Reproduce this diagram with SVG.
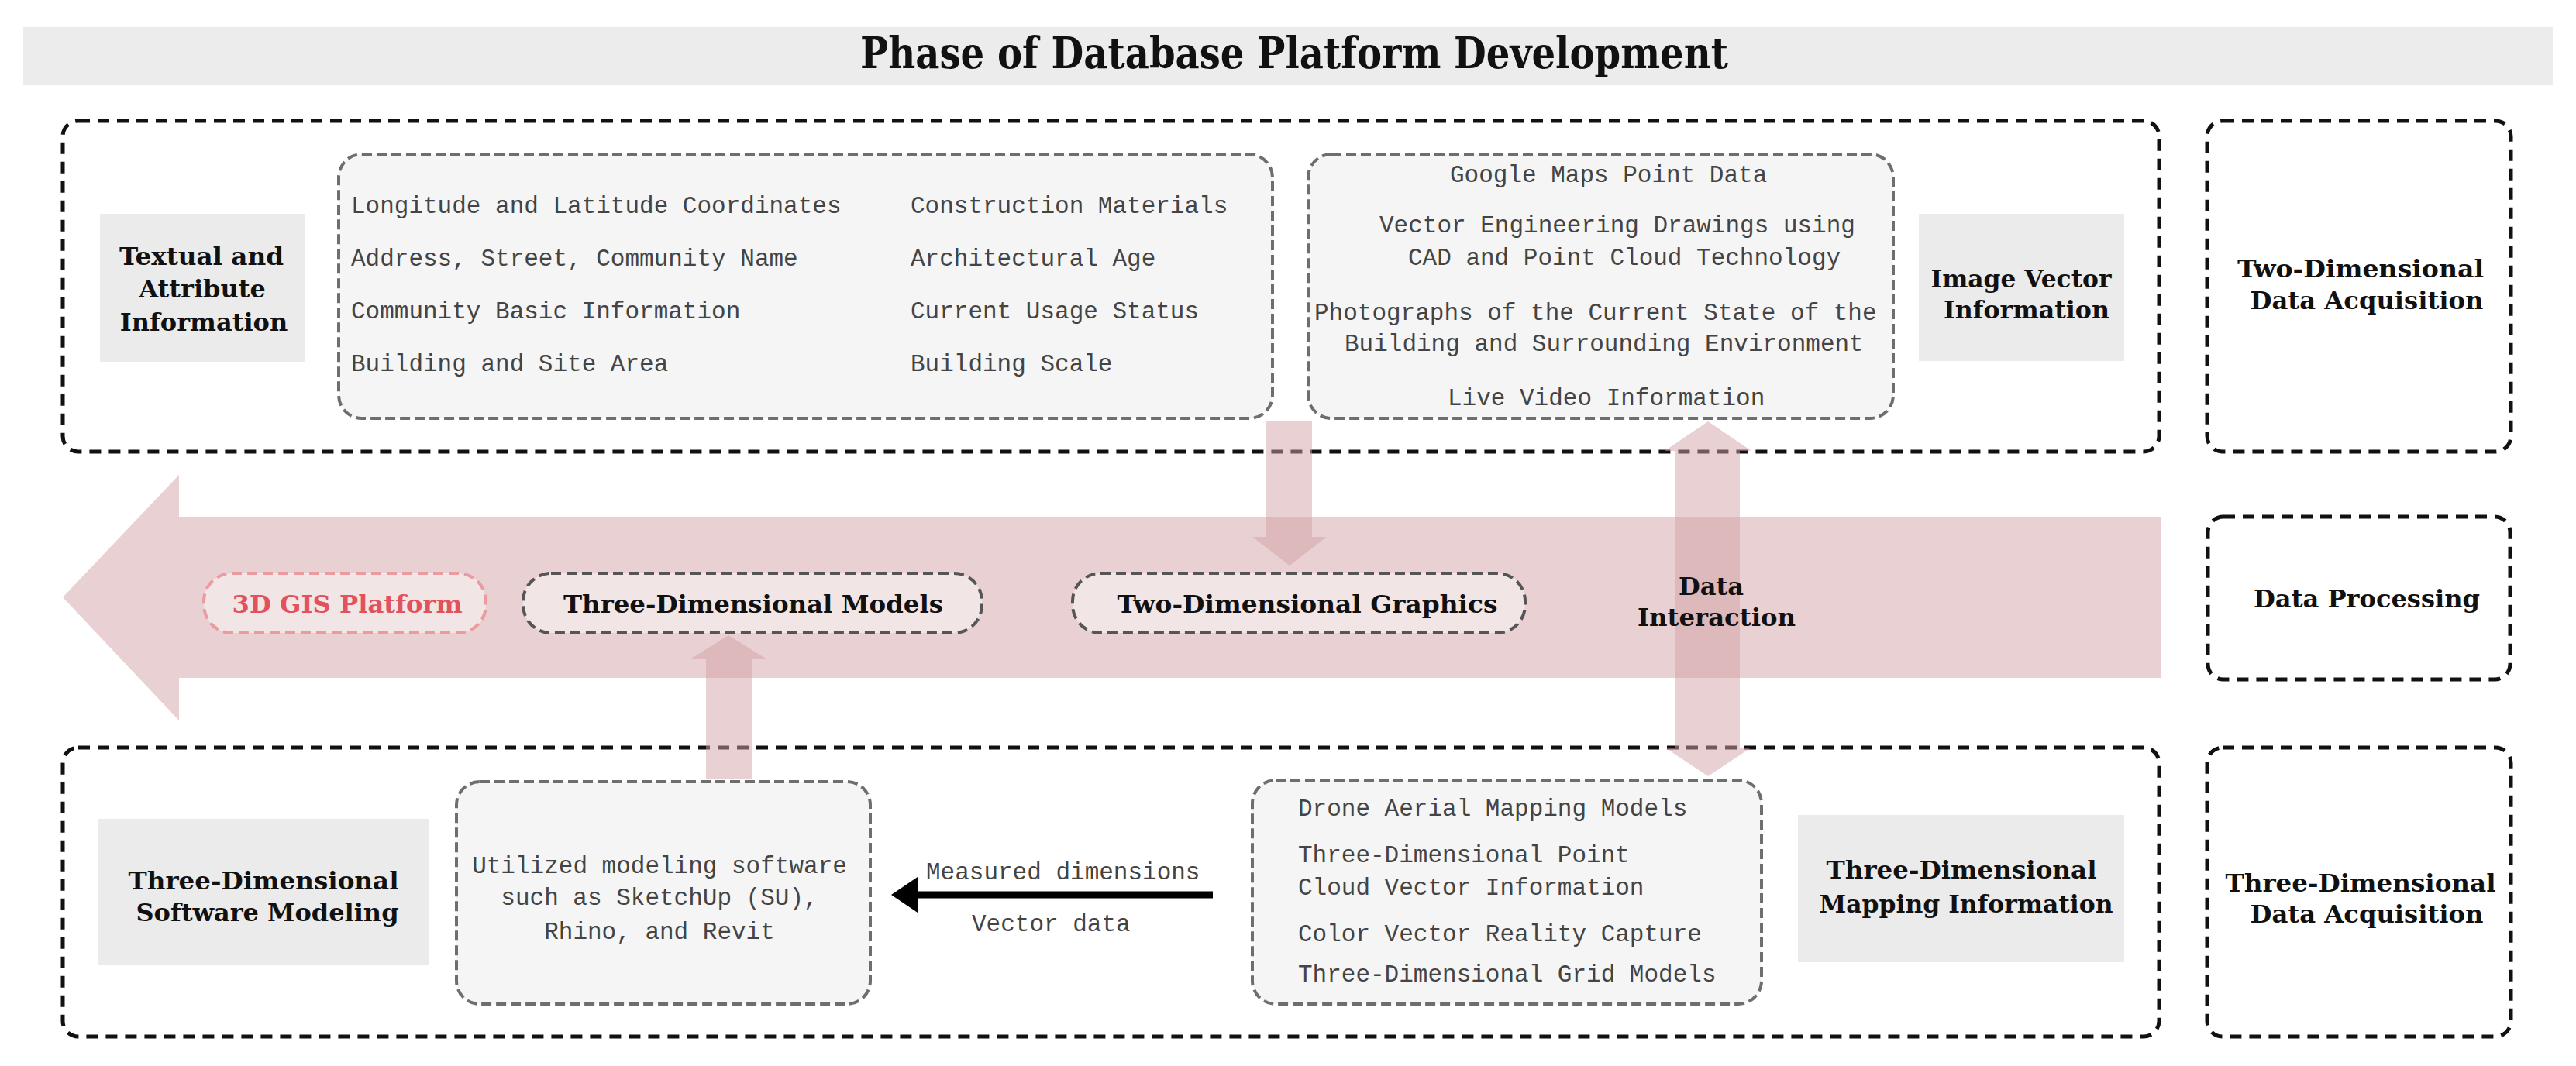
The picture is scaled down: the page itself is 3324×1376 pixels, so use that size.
<svg xmlns="http://www.w3.org/2000/svg" width="3324" height="1376" viewBox="0 0 3324 1376">
<defs>
<style>
.outer{fill:none;stroke:#111;stroke-width:5;stroke-dasharray:15 10}
.inner{fill:#f5f5f5;stroke:#6e6e6e;stroke-width:4;stroke-dasharray:13 6}
.label{fill:#ebebeb}
.pill{fill:#f1e5e5;stroke:#555;stroke-width:4;stroke-dasharray:13 7}
.pillred{fill:#f1e5e5;stroke:#eb9aa0;stroke-width:4;stroke-dasharray:13 7}
.b{font-family:"DejaVu Serif","Liberation Serif",serif;font-weight:bold;font-size:32px;fill:#111;text-anchor:middle}
.m{font-family:"Liberation Mono","DejaVu Sans Mono",monospace;font-size:31px;fill:#444}
.mc{font-family:"Liberation Mono","DejaVu Sans Mono",monospace;font-size:31px;fill:#444;text-anchor:middle}
.pink{fill:#d3a1a5;fill-opacity:0.5}
</style>
<marker id="blackhead" viewBox="0 0 34 46" refX="0" refY="23" markerWidth="34" markerHeight="46" markerUnits="userSpaceOnUse" orient="auto-start-reverse">
<path d="M0,0 L34,23 L0,46 Z" fill="#000"/>
</marker>
</defs>
<rect width="3324" height="1376" fill="#fff"/>

<g id="title">
<rect x="30" y="35" width="3264" height="75" fill="#ececec"/>
<text class="b" x="1670" y="88" font-size="56" style="font-size:56px" textLength="1120" lengthAdjust="spacingAndGlyphs">Phase of Database Platform Development</text>
</g>

<g id="top-section">
<rect class="outer" x="81" y="156" width="2705" height="427" rx="20"/>
</g>
<g id="two-dim-acq">
<rect class="outer" x="2848" y="156" width="392" height="427" rx="20"/>
<text class="b" x="3046" y="358" textLength="318" lengthAdjust="spacingAndGlyphs">Two-Dimensional</text>
<text class="b" x="3054" y="399" textLength="301" lengthAdjust="spacingAndGlyphs">Data Acquisition</text>
</g>
<g id="data-processing">
<rect class="outer" x="2849" y="667" width="390" height="210" rx="20"/>
<text class="b" x="3054" y="784" textLength="292" lengthAdjust="spacingAndGlyphs">Data Processing</text>
</g>
<g id="bottom-section">
<rect class="outer" x="81" y="965" width="2705" height="373" rx="20"/>
</g>
<g id="three-dim-acq">
<rect class="outer" x="2848" y="965" width="392" height="373" rx="20"/>
<text class="b" x="3046" y="1151" textLength="349" lengthAdjust="spacingAndGlyphs">Three-Dimensional</text>
<text class="b" x="3054" y="1191" textLength="301" lengthAdjust="spacingAndGlyphs">Data Acquisition</text>
</g>

<g id="textual-attribute">
<rect class="label" x="129" y="276" width="264" height="191"/>
<text class="b" x="260" y="342" textLength="212" lengthAdjust="spacingAndGlyphs">Textual and</text>
<text class="b" x="261" y="384">Attribute</text>
<text class="b" x="263" y="427">Information</text>
</g>

<g id="attribute-list">
<rect class="inner" x="437" y="199" width="1205" height="341" rx="30"/>
<text class="m" x="453" y="275">Longitude and Latitude Coordinates</text>
<text class="m" x="453" y="343">Address, Street, Community Name</text>
<text class="m" x="453" y="411">Community Basic Information</text>
<text class="m" x="453" y="479">Building and Site Area</text>
<text class="m" x="1175" y="275">Construction Materials</text>
<text class="m" x="1175" y="343">Architectural Age</text>
<text class="m" x="1175" y="411">Current Usage Status</text>
<text class="m" x="1175" y="479">Building Scale</text>
</g>

<g id="image-vector-list">
<rect class="inner" x="1688" y="199" width="755" height="341" rx="30"/>
<text class="m" x="1871" y="235">Google Maps Point Data</text>
<text class="m" x="1780" y="300">Vector Engineering Drawings using</text>
<text class="m" x="1817" y="342">CAD and Point Cloud Technology</text>
<text class="m" x="1696" y="413">Photographs of the Current State of the</text>
<text class="m" x="1735" y="453">Building and Surrounding Environment</text>
<text class="m" x="1868" y="523">Live Video Information</text>
</g>

<g id="image-vector">
<rect class="label" x="2476" y="276" width="265" height="190"/>
<text class="b" x="2608" y="371" textLength="233" lengthAdjust="spacingAndGlyphs">Image Vector</text>
<text class="b" x="2615" y="411" textLength="214" lengthAdjust="spacingAndGlyphs">Information</text>
</g>

<g id="three-dim-software">
<rect class="label" x="127" y="1057" width="426" height="189"/>
<text class="b" x="340" y="1148" textLength="349" lengthAdjust="spacingAndGlyphs">Three-Dimensional</text>
<text class="b" x="345" y="1189" textLength="339" lengthAdjust="spacingAndGlyphs">Software Modeling</text>
</g>

<g id="modeling-software">
<rect class="inner" x="589" y="1009" width="534" height="287" rx="30"/>
<text class="mc" x="851" y="1127">Utilized modeling software</text>
<text class="mc" x="851" y="1168">such as SketchUp (SU),</text>
<text class="mc" x="851" y="1212">Rhino, and Revit</text>
</g>

<g id="mapping-list">
<rect class="inner" x="1616" y="1007" width="657" height="289" rx="30"/>
<text class="m" x="1675" y="1053">Drone Aerial Mapping Models</text>
<text class="m" x="1675" y="1113">Three-Dimensional Point</text>
<text class="m" x="1675" y="1155">Cloud Vector Information</text>
<text class="m" x="1675" y="1215">Color Vector Reality Capture</text>
<text class="m" x="1675" y="1267">Three-Dimensional Grid Models</text>
</g>

<g id="three-dim-mapping">
<rect class="label" x="2320" y="1052" width="421" height="190"/>
<text class="b" x="2531" y="1134" textLength="349" lengthAdjust="spacingAndGlyphs">Three-Dimensional</text>
<text class="b" x="2537" y="1178" textLength="379" lengthAdjust="spacingAndGlyphs">Mapping Information</text>
</g>

<g id="connectors">
<polygon class="pink" points="2788,667 231,667 231,613 81,771 231,930 231,875 2788,875"/>
<polygon class="pink" points="1634,543 1693,543 1693,693 1712,693 1664,730 1616,693 1634,693"/>
<polygon class="pink" points="911,1005 970,1005 970,850 988,850 940,820 892,850 911,850"/>
<polygon class="pink" points="2204,544 2260,582 2245,582 2245,966 2258,966 2204,1002 2150,966 2162,966 2162,582 2148,582"/>
<line x1="1565" y1="1155" x2="1184" y2="1155" stroke="#000" stroke-width="9" marker-end="url(#blackhead)"/>
<text class="m" x="1195" y="1135">Measured dimensions</text>
<text class="m" x="1254" y="1202">Vector data</text>
<text class="b" x="2208" y="768">Data</text>
<text class="b" x="2215" y="808" textLength="204" lengthAdjust="spacingAndGlyphs">Interaction</text>
</g>

<g id="gis-platform">
<rect class="pillred" x="263" y="740" width="364" height="77" rx="36"/>
<text class="b" x="448" y="791" style="fill:#e2525d" textLength="297" lengthAdjust="spacingAndGlyphs">3D GIS Platform</text>
</g>
<g id="three-dim-models">
<rect class="pill" x="675" y="740" width="592" height="77" rx="36"/>
<text class="b" x="972" y="791" textLength="490" lengthAdjust="spacingAndGlyphs">Three-Dimensional Models</text>
</g>
<g id="two-dim-graphics">
<rect class="pill" x="1384" y="740" width="584" height="77" rx="36"/>
<text class="b" x="1687" y="791" textLength="491" lengthAdjust="spacingAndGlyphs">Two-Dimensional Graphics</text>
</g>
</svg>
